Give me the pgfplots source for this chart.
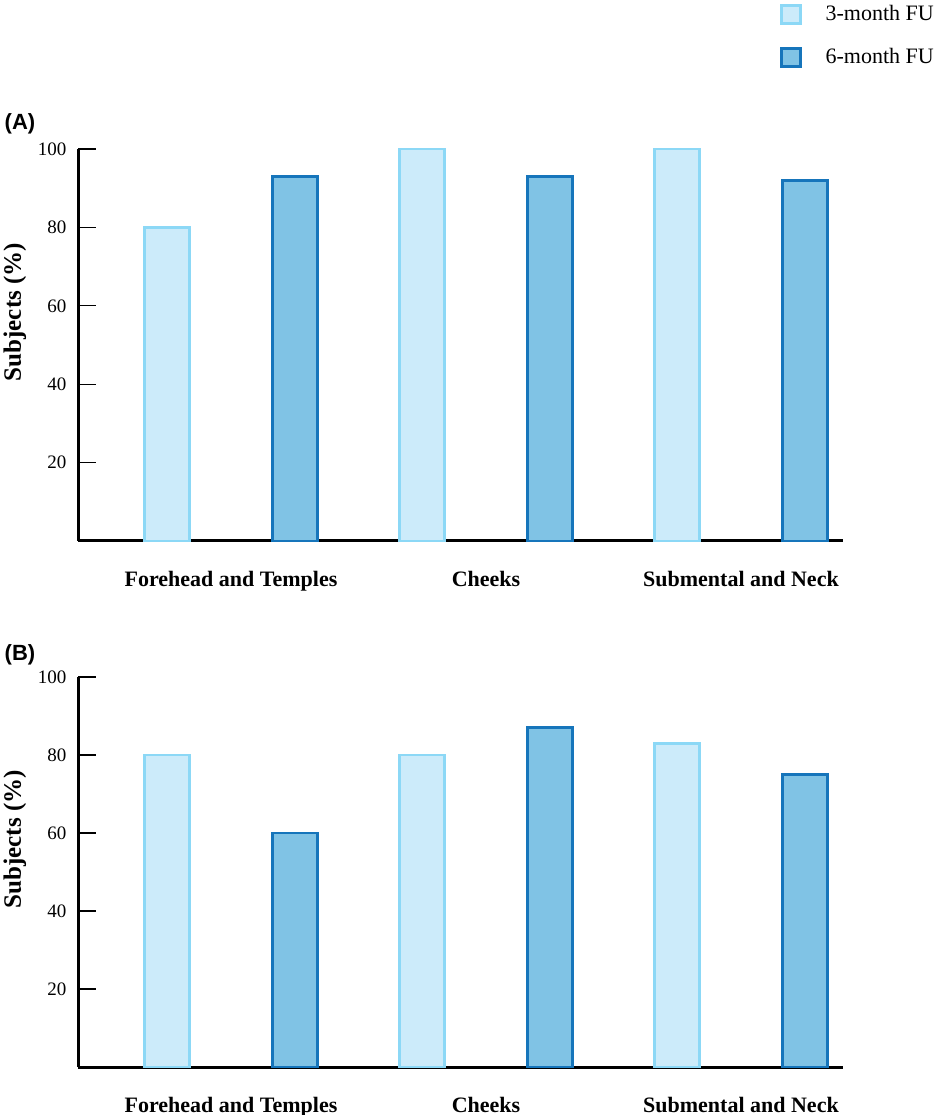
\documentclass[border=0pt]{standalone}
\usepackage{fontspec}
\setmainfont{Liberation Serif}
\newfontfamily\arialfont{Liberation Sans}
\usepackage{pgfplots}
\pgfplotsset{compat=1.18}
\definecolor{lightfill}{RGB}{204,235,250}
\definecolor{lightedge}{RGB}{140,216,246}
\definecolor{darkfill}{RGB}{128,195,229}
\definecolor{darkedge}{RGB}{22,117,187}
\pgfplotsset{
  panel/.style={
    scale only axis, width=382.5pt,
    anchor=south west,
    xmin=0.3, xmax=6.3, ymin=0, ymax=100,
    axis x line*=bottom, axis y line*=left,
    axis line style={line width=1.5pt, black, -},
    xtick={1.5,3.5,5.5},
    xticklabels={Forehead and Temples, Cheeks, Submental and Neck},
    x tick style={draw=none},
    x tick label style={font=\fontsize{11}{13}\selectfont\bfseries, yshift=-2.5pt},
    ytick={20,40,60,80,100},
    y tick style={line width=0.6pt, black},
    tick align=inside,
    major tick length=9pt,
    y tick label style={font=\fontsize{9.5}{11}\selectfont, xshift=-2.3pt},
    /pgf/number format/assume math mode=true,
    ylabel={Subjects (\%)},
    ylabel style={font=\fontsize{12.5}{14}\selectfont\bfseries, at={(axis description cs:-0.0824,0.584)}, anchor=center},
    ybar, bar width=22.5pt,
    clip=false,
  },
  three/.style={bar shift=0pt, fill=lightfill, draw=lightedge, line width=1.4pt,
    legend image code/.code={\draw[fill=lightfill, draw=lightedge, line width=1.4pt] (0pt,-4.6pt) rectangle (9.2pt,4.6pt);}},
  six/.style={bar shift=0pt, fill=darkfill, draw=darkedge, line width=1.4pt,
    legend image code/.code={\draw[fill=darkfill, draw=darkedge, line width=1.4pt] (0pt,-4.6pt) rectangle (9.2pt,4.6pt);}},
}
\begin{document}
\begin{tikzpicture}
\path[use as bounding box] (0pt,0pt) rectangle (468pt,557.5pt);
\begin{axis}[panel, height=196pt, at={(39pt,287pt)},
  legend style={at={(axis description cs:0.9176,1.378)}, anchor=north west, draw=none, fill=none,
    font=\fontsize{11}{13}\selectfont, row sep=8.5pt, inner sep=0pt,
    /tikz/every odd column/.append style={column sep=10pt}},
  legend cell align=left]
\addplot[three] coordinates {(1,80) (3,100) (5,100)};
\addplot[six] coordinates {(2,93) (4,93) (6,92)};
\legend{3-month FU, 6-month FU}
\end{axis}
\begin{axis}[panel, height=195pt, at={(39pt,24pt)}]
\addplot[three] coordinates {(1,80) (3,80) (5,83)};
\addplot[six] coordinates {(2,60) (4,87) (6,75)};
\end{axis}
\node[font={\fontsize{11}{13}\arialfont\bfseries}] at (10pt,495.5pt) {(A)};
\node[font={\fontsize{11}{13}\arialfont\bfseries}] at (10pt,230pt) {(B)};
\end{tikzpicture}
\end{document}
